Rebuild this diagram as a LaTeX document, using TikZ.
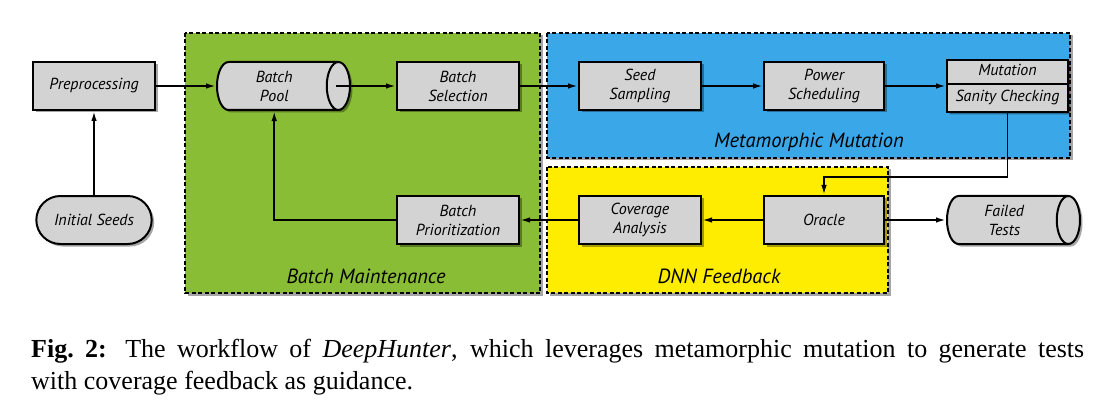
\documentclass[tikz,border=0pt]{standalone}
\usepackage{fontspec}
\setmainfont{Liberation Serif}
\newfontfamily\flowfont{PT Sans}
\RequirePackage{xcolor}
\definecolor{boxgray}{RGB}{211,211,212}
\definecolor{maintgreen}{RGB}{137,189,54}
\definecolor{mutblue}{RGB}{58,167,233}
\definecolor{feedyellow}{RGB}{255,237,0}
\usetikzlibrary{calc}
\usetikzlibrary{positioning}
\usetikzlibrary{shapes.geometric,shapes.misc,shapes.multipart,shadows,backgrounds,arrows.meta}
\tikzset{
  softshadow/.style={drop shadow={shadow xshift=2.5pt, shadow yshift=-2.5pt, fill=black, opacity=0.35}},
  stage/.style={draw, line width=2pt, fill=boxgray, minimum width=122pt, minimum height=48pt,
    align=center, softshadow, font=\flowfont\itshape\fontsize{16}{19}\selectfont},
  store/.style={stage, cylinder, shape aspect=0.625, minimum height=133pt, minimum width=48pt},
  seeds/.style={stage, rounded rectangle},
  flow/.style={line width=1.8pt, -{Latex[length=10pt,width=5.5pt]}},
  region/.style={draw, line width=1.2pt, dash pattern=on 4pt off 2.5pt, softshadow},
  regionlabel/.style={anchor=base, font=\flowfont\itshape\fontsize{20.5}{24}\selectfont}
}
\begin{document}
\begin{tikzpicture}[x=1pt, y=-1pt]
  \useasboundingbox (0,0) rectangle (1114,417);

  % upper row
  \node [stage] (prep) at (94,86) {Preprocessing};
  \node [store, right=60pt of prep] (pool) {Batch\\Pool};
  \node [stage, right=45pt of pool] (select) {Batch\\Selection};
  \node [stage, right=58pt of select] (sample) {Seed\\Sampling};
  \node [stage, right=61pt of sample, minimum width=120pt] (power) {Power\\Scheduling};
  \node [stage, right=61pt of power, minimum width=121pt, rectangle split, rectangle split parts=2, inner ysep=0pt]
    (mutate) {\rule[-7pt]{0pt}{22pt}Mutation\nodepart{second}\rule[-9pt]{0pt}{26pt}Sanity Checking};

  % lower row
  \node [seeds, below=84pt of prep] (init) {Initial Seeds};
  \node [stage, below=84pt of power, minimum width=120pt] (oracle) {Oracle};
  \node [store, right=61pt of oracle] (failed) {Failed\\Tests};
  \node [stage, left=61pt of oracle] (coverage) {Coverage\\Analysis};
  \node [stage, left=58pt of coverage] (prior) {Batch\\Prioritization};

  % groups
  \begin{scope}[on background layer]
    \draw [region, fill=maintgreen] (185,33) rectangle (540,293);
    \draw [region, fill=mutblue] (547,33) rectangle (1070,158);
    \draw [region, fill=feedyellow] (547,167) rectangle (888,293);
  \end{scope}
  \node [regionlabel] (maintlabel) at (366,283) {Batch Maintenance};
  \node [regionlabel] (mutlabel) at (809,148) {Metamorphic Mutation};
  \node [regionlabel] (feedlabel) at (719,283) {DNN Feedback};

  \draw [flow] (init) -- (prep);
  \draw [flow] (prep) -- (pool);
  \draw [flow] ([xshift=-15pt]pool.east) -- (select);
  \draw [flow] (select) -- (sample);
  \draw [flow] (sample) -- (power);
  \draw [flow] (power) -- (mutate);
  \draw [flow] (mutate.south) -- ++(0,64) -| (oracle.north);
  \draw [flow] (oracle) -- (failed);
  \draw [flow] (oracle) -- (coverage);
  \draw [flow] (coverage) -- (prior);
  \draw [flow] (prior.west) -| (pool.south);

  \node [anchor=north west, text width=1053pt, align=justify, inner sep=0pt,
    font=\fontsize{26}{32}\selectfont] (caption) at (31,338.5)
    {\textbf{Fig.~2:} The workflow of \textit{DeepHunter}, which leverages metamorphic mutation to generate tests\linebreak with coverage feedback as guidance.};
\end{tikzpicture}
\end{document}
